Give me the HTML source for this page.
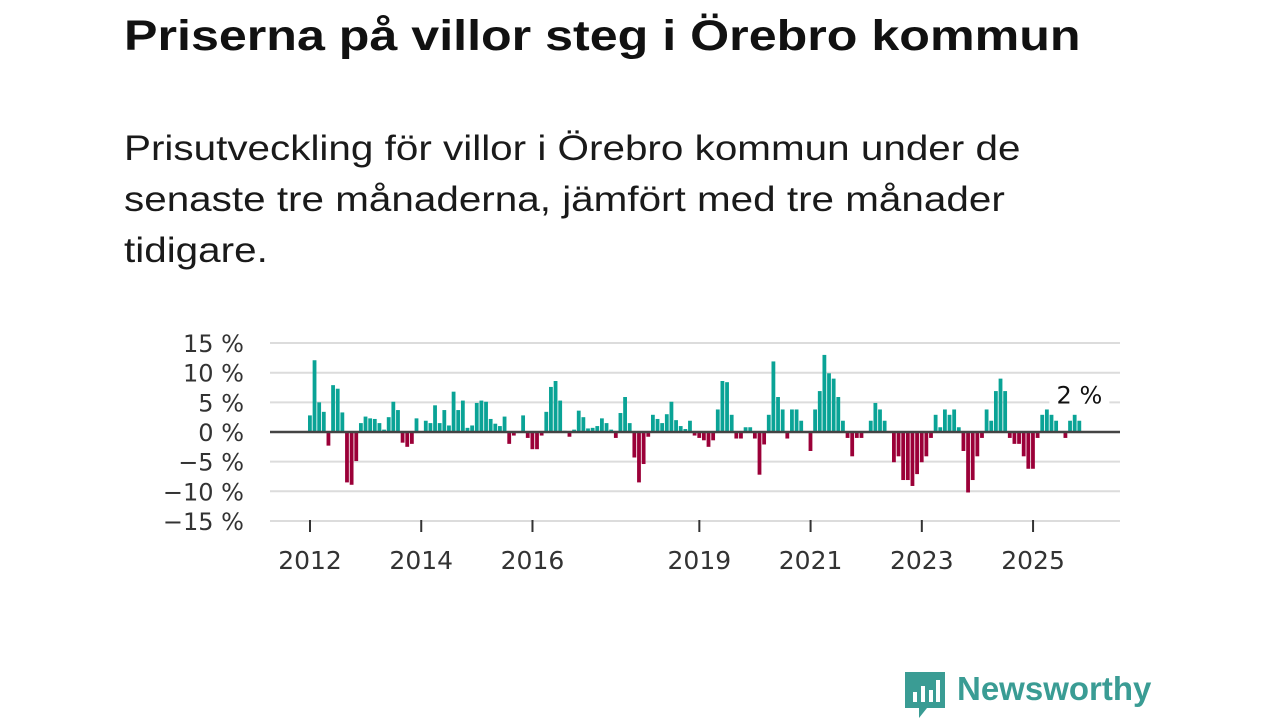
<!DOCTYPE html>
<html><head><meta charset="utf-8">
<style>
html,body{margin:0;padding:0;background:#fff;}
body{width:1280px;height:720px;position:relative;overflow:hidden;font-family:"Liberation Sans",sans-serif;color:#111;}
#title{position:absolute;left:124px;top:12px;font-size:43px;font-weight:bold;margin:0;white-space:nowrap;transform:scaleX(1.167);transform-origin:left top;}
#subtitle{position:absolute;left:124px;top:123px;font-size:35px;line-height:51px;margin:0;color:#1a1a1a;white-space:nowrap;transform:scaleX(1.155);transform-origin:left top;}
svg{position:absolute;left:0;top:0;}
#logo{position:absolute;left:903px;top:670px;}
#logo-text{position:absolute;left:957px;top:670px;font-size:33px;font-weight:bold;color:#3a9c94;}
</style></head>
<body>
<h1 id="title">Priserna på villor steg i Örebro kommun</h1>
<p id="subtitle">Prisutveckling för villor i Örebro kommun under de<br>senaste tre månaderna, jämfört med tre månader<br>tidigare.</p>
<svg id="chart" width="1280" height="720"></svg>
<svg id="logo" width="44" height="50">
<path d="M2 2 H42 V38 H24 L16 48 V38 H2 Z" fill="#3a9c94"/>
<rect x="10" y="22" width="4" height="10" fill="#fff"/>
<rect x="18" y="16" width="4" height="16" fill="#fff"/>
<rect x="26" y="20" width="4" height="12" fill="#fff"/>
<rect x="33" y="10" width="4" height="22" fill="#fff"/>
</svg>
<div id="logo-text">Newsworthy</div>
<script>
const startYear = 2012;
const values = [
2.8,12.1,5.0,3.4,-2.3,7.9,7.3,3.3,-8.5,-8.9,-4.9,1.5,
2.6,2.3,2.2,1.5,0.4,2.5,5.1,3.7,-1.8,-2.5,-2.0,2.3,
0,1.9,1.5,4.5,1.5,3.7,1.1,6.8,3.7,5.3,0.7,1.1,
4.9,5.3,5.1,2.2,1.4,1.0,2.6,-2.0,-0.6,0,2.8,-1.0,
-2.9,-2.9,-0.6,3.4,7.6,8.6,5.3,0.2,-0.8,0.4,3.6,2.5,
0.6,0.7,1.0,2.3,1.5,0.4,-1.0,3.2,5.9,1.5,-4.3,-8.5,
-5.4,-0.8,2.9,2.2,1.5,3.0,5.1,2.0,1.0,0.5,1.9,-0.6,
-1.0,-1.4,-2.5,-1.4,3.8,8.6,8.4,2.9,-1.1,-1.1,0.8,0.8,
-1.1,-7.2,-2.1,2.9,11.9,5.9,3.8,-1.1,3.8,3.8,1.9,0,
-3.2,3.8,6.9,13.0,9.9,9.0,5.9,1.9,-1.0,-4.1,-1.0,-1.0,
0,1.9,4.9,3.8,1.9,0,-5.1,-4.1,-8.1,-8.1,-9.1,-7.1,
-5.1,-4.1,-1.0,2.9,0.8,3.8,2.9,3.8,0.8,-3.2,-10.2,-8.1,
-4.1,-1.0,3.8,1.9,6.9,9.0,6.9,-1.0,-2.0,-2.0,-4.1,-6.2,
-6.2,-1.0,2.9,3.8,2.9,1.9,0,-1.0,1.9,2.9,1.9
];
const yTicks = [15,10,5,0,-5,-10,-15];
const yTickLabels = ["15 %","10 %","5 %","0 %","\u22125 %","\u221210 %","\u221215 %"];
const xTickYears = [2012,2014,2016,2019,2021,2023,2025];
const lastLabel = "2 %";

const NS="http://www.w3.org/2000/svg";
const svg=document.getElementById('chart');
const x0=310, monthW=4.635, left=270, right=1120;
const FF='DejaVu Sans, sans-serif';
const y=v=>432-v*5.93;
const xm=i=>x0+i*monthW;
function mk(t,a){const e=document.createElementNS(NS,t);for(const k in a)e.setAttribute(k,a[k]);svg.appendChild(e);return e;}
yTicks.forEach((t,i)=>{
  if(t!==0){const g=mk('line',{x1:left,x2:right,y1:y(t),y2:y(t),stroke:'#dcdcdc','stroke-width':2});
  
  }
  const l=mk('text',{x:244,y:y(t)+9,'text-anchor':'end','font-size':24,fill:'#333','font-family':FF});
  l.textContent=yTickLabels[i];
  
  
});
values.forEach((v,i)=>{
  if(v===0)return;
  const b=mk('rect',{x:xm(i)-2,width:3.8,y:Math.min(y(v),y(0)),height:Math.abs(y(v)-y(0)),fill:v>0?'#0aa396':'#9b0038'});
  
  
});
const z=mk('line',{x1:left,x2:right,y1:y(0),y2:y(0),stroke:'#444','stroke-width':2.5});


xTickYears.forEach(yr=>{
  const xx=xm((yr-startYear)*12);
  const t=mk('line',{x1:xx,x2:xx,y1:520,y2:532,stroke:'#333','stroke-width':2});
  
  
  const l=mk('text',{x:xx,y:569,'text-anchor':'middle','font-size':25,fill:'#333','font-family':FF});
  l.textContent=yr;
  
  
});
const lastI=values.length-1;
const bg=mk('rect',{x:xm(lastI)-30,y:y(values[lastI])-40,width:60,height:30,fill:'#fff'});


const ll=mk('text',{x:xm(lastI),y:y(values[lastI])-17,'text-anchor':'middle','font-size':24,fill:'#111','font-family':FF});
ll.textContent=lastLabel;


</script>
</body></html>
